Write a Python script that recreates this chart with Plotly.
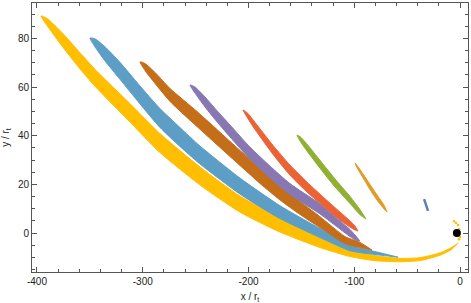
import plotly.graph_objects as go

# ---- data (centerline x, y and vertical thickness t, in units of r_t) ----
yellow_x = [-396.2, -390.5, -383.0, -373.5, -359.3, -343.3, -312.0, -283.7, -245.9, -208.0, -170.2, -132.4, -104.0, -80.4, -56.7, -37.8, -18.9, -7.6, -1.9]
yellow_y = [89.3, 86.8, 83.1, 78.2, 70.8, 63.0, 49.4, 37.0, 23.5, 11.9, 3.3, -3.7, -8.2, -10.3, -11.1, -10.7, -8.6, -6.2, -4.1]
yellow_t = [0, 2.9, 4.5, 5.8, 6.6, 7.0, 7.6, 7.8, 7.4, 6.6, 5.8, 4.5, 2.9, 2.1, 1.4, 1.2, 1.0, 0.8, 0]

lblue_x = [-349.9, -345.1, -335.7, -321.5, -302.6, -283.7, -264.8, -245.9, -208.0, -170.2, -132.4, -104.0, -80.4, -58.6]
lblue_y = [80.2, 78.2, 73.7, 66.7, 56.8, 47.3, 39.5, 32.1, 19.3, 8.6, 0.0, -6.2, -8.2, -9.9]
lblue_t = [0, 3.3, 5.8, 7.0, 7.4, 7.8, 7.8, 7.4, 6.6, 5.3, 3.7, 2.1, 1.2, 0]

brown_x = [-302.6, -297.9, -288.4, -274.2, -248.7, -217.5, -189.1, -170.2, -151.3, -132.4, -108.7, -94.6, -83.2]
brown_y = [70.4, 68.3, 63.8, 56.8, 46.9, 34.6, 23.5, 16.5, 10.3, 4.5, -2.9, -4.9, -7.0]
brown_t = [0, 2.9, 4.5, 5.3, 6.2, 6.2, 6.2, 5.8, 5.3, 4.5, 2.9, 2.1, 0]

purple_x = [-255.3, -250.6, -241.1, -231.7, -217.5, -198.6, -179.7, -160.8, -132.4, -113.5, -104.0, -98.3, -94.6]
purple_y = [60.9, 58.8, 53.9, 49.0, 42.0, 32.9, 25.1, 18.1, 9.9, 3.3, 0.0, -2.1, -3.3]
purple_t = [0, 2.5, 4.1, 4.5, 4.9, 4.9, 4.9, 4.5, 4.1, 3.3, 2.9, 1.6, 0]

red_x = [-205.2, -200.5, -193.8, -176.8, -160.8, -144.7, -127.7, -113.5, -104.0, -99.3, -96.5]
red_y = [50.6, 48.1, 44.0, 34.2, 25.9, 18.9, 12.3, 7.0, 3.7, 2.1, 0.8]
red_t = [0, 2.1, 2.9, 3.7, 4.1, 4.1, 3.7, 3.3, 2.5, 1.6, 0]

green_x = [-154.1, -150.4, -143.7, -129.5, -118.2, -104.0, -94.6, -88.9]
green_y = [40.3, 38.3, 34.6, 26.7, 20.6, 13.6, 8.6, 5.8]
green_t = [0, 2.1, 2.9, 3.3, 3.3, 2.9, 2.1, 0]

orange_x = [-99.3, -96.5, -91.7, -85.1, -77.5, -71.9, -69.0]
orange_y = [28.8, 26.7, 23.5, 18.9, 14.0, 10.7, 8.6]
orange_t = [0, 1.2, 1.6, 2.1, 2.1, 1.6, 0]

dblue_x = [-34.0, -30.3]
dblue_y = [14.0, 9.1]

ydots_x = [-5.7, -3.8, -1.9, -0.9, 0.0, -0.9]
ydots_y = [4.9, 4.1, 3.3, 1.6, -1.6, -2.5]

bh_x = [-3.0]
bh_y = [0.0]

xtick_vals = [-400, -300, -200, -100, 0]
xtick_text = ["-400", "-300", "-200", "-100", "0"]
ytick_vals = [0, 20, 40, 60, 80]
ytick_text = ["0", "20", "40", "60", "80"]

streams = [
    (yellow_x, yellow_y, yellow_t, "#FFBF00"),
    (lblue_x, lblue_y, lblue_t, "#5D9EC7"),
    (brown_x, brown_y, brown_t, "#C56E1A"),
    (purple_x, purple_y, purple_t, "#8778B3"),
    (red_x, red_y, red_t, "#EB6235"),
    (green_x, green_y, green_t, "#8FB032"),
    (orange_x, orange_y, orange_t, "#E19C24"),
]

fig = go.Figure()
for xs, ys, ts, col in streams:
    up = [y + t / 2 for y, t in zip(ys, ts)]
    lo = [y - t / 2 for y, t in zip(ys, ts)]
    px = list(xs) + list(xs)[::-1]
    py = up + lo[::-1]
    fig.add_trace(go.Scatter(x=px, y=py, mode="lines", fill="toself",
                             fillcolor=col, line=dict(color=col, width=1, shape="spline", smoothing=0.6),
                             hoverinfo="skip", showlegend=False))

fig.add_trace(go.Scatter(x=dblue_x, y=dblue_y, mode="lines",
                         line=dict(color="#5E81B5", width=2.5), showlegend=False))
fig.add_trace(go.Scatter(x=ydots_x, y=ydots_y, mode="markers",
                         marker=dict(color="#FFBF00", size=2.5), showlegend=False))
fig.add_trace(go.Scatter(x=bh_x, y=bh_y, mode="markers",
                         marker=dict(color="black", size=8), showlegend=False))

axis_common = dict(showgrid=False, zeroline=False, showline=True, linecolor="#555",
                   linewidth=1, mirror="ticks", ticks="inside", ticklen=5, tickcolor="#555",
                   automargin=False,
                   tickfont=dict(family="Liberation Sans", size=10, color="#222"))

fig.update_xaxes(range=[-404.7, 7.5], tickvals=xtick_vals, ticktext=xtick_text,
                 minor=dict(dtick=20, tick0=0, ticks="inside", ticklen=3, tickcolor="#555"),
                 title=dict(text="x / r<sub>t</sub>", font=dict(family="Liberation Sans", size=10, color="#222")),
                 **axis_common)
fig.update_yaxes(range=[-16, 94.6], tickvals=ytick_vals, ticktext=ytick_text,
                 minor=dict(dtick=5, tick0=0, ticks="inside", ticklen=3, tickcolor="#555"),
                 title=dict(text="y / r<sub>t</sub>", font=dict(family="Liberation Sans", size=10, color="#222")),
                 **axis_common)

fig.update_layout(width=471, height=303, margin=dict(l=32, r=3, t=3, b=31, autoexpand=False),
                  plot_bgcolor="white", paper_bgcolor="white", showlegend=False)

fig.write_html("out.html", config={"displayModeBar": False, "staticPlot": True},
               post_script="document.body.style.margin='0';document.body.style.padding='0';")
